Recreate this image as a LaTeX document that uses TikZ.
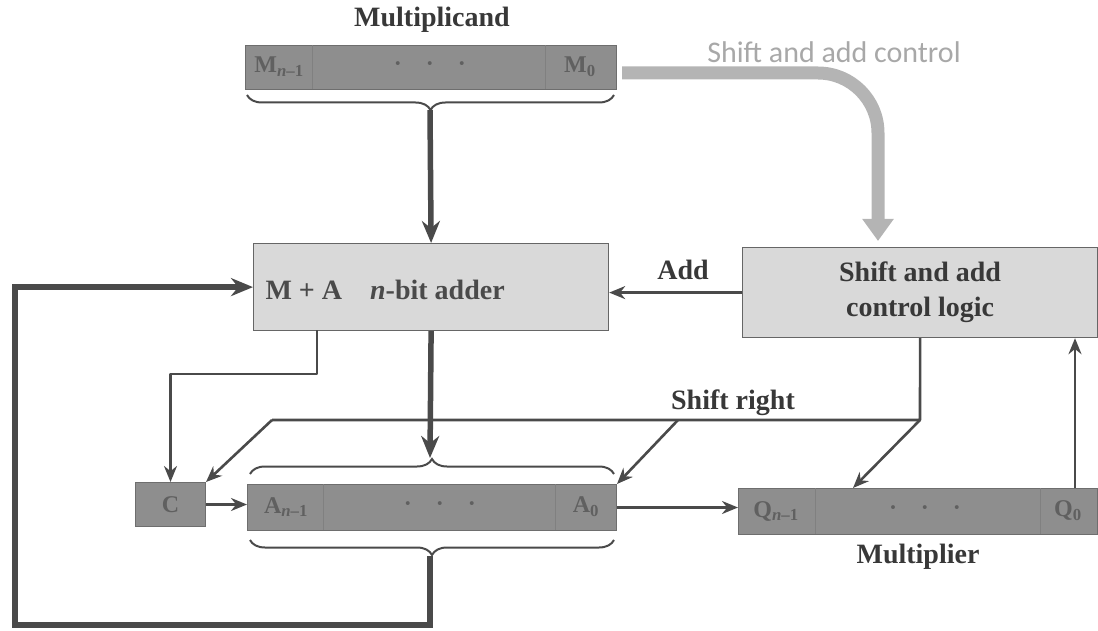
\documentclass[tikz,border=0pt]{standalone}
\usepackage{fontspec}
\setmainfont{Liberation Serif}
\newfontfamily\calib{Carlito}
\usetikzlibrary{arrows.meta,decorations.pathreplacing,calc}

\definecolor{ln}{HTML}{4A4A4A}
\definecolor{regfill}{HTML}{8E8E8E}
\definecolor{boxfill}{HTML}{D9D9D9}
\definecolor{regtext}{HTML}{606060}
\definecolor{ctrlgray}{HTML}{B4B4B4}
\definecolor{ctrltext}{HTML}{A8A8A8}
\definecolor{lbltext}{HTML}{383838}

\begin{document}
\begin{tikzpicture}[x=1pt,y=-1pt,
  thinline/.style={draw=ln, line width=2.6pt, line join=round},
  thickline/.style={draw=ln, line width=5.5pt},
  thinarrow/.style={thinline, -{Stealth[length=16pt,width=13pt]}},
  thickarrow/.style={thickline, -{Stealth[length=22pt,width=18pt]}},
  reg/.style={draw=ln!80, line width=1pt, fill=regfill, inner sep=0pt, anchor=north west},
  lbox/.style={draw=gray!80!black, line width=1.2pt, fill=boxfill, inner sep=0pt, anchor=north west},
  lbl/.style={font=\fontsize{28}{35}\selectfont\bfseries, text=lbltext},
  celltxt/.style={font=\fontsize{24}{28}\selectfont\bfseries, text=regtext},
  divider/.style={draw=regtext!80, line width=1pt},
  brc/.style={draw=ln, line width=2pt, decorate, decoration={brace, amplitude=15pt}},
]
\useasboundingbox (0,0) rectangle (1098,631);

% ---------- Multiplicand register ----------
\node[lbl] (mlabel) at (432,20) {Multiplicand};
\node[reg, minimum width=371pt, minimum height=44pt] (mreg) at (245,45) {};
\draw[divider] (312,45) -- (312,89);
\draw[divider] (545,45) -- (545,89);
\node[celltxt] (mn1) at (279,67) {M\textsubscript{\textit{n}–1}};
\node[celltxt] (mdots) at (430,67) {·\quad·\quad·};
\node[celltxt] (m0) at (580,67) {M\textsubscript{0}};
\draw[brc] (614,95) -- (247,95);
\coordinate (mtip) at (430,110);

% ---------- Adder ----------
\node[lbox, minimum width=355pt, minimum height=87pt] (adder) at (253,243) {};
\node[lbl, anchor=west, text=ln] (addtxt) at (262,290) {M + A\quad\textit{n}-bit adder};
\draw[thickarrow] (mtip) -- (adder.north);

% ---------- Control logic ----------
\node[lbox, minimum width=355pt, minimum height=90pt] (ctrl) at (742,247) {};
\node[lbl, align=center] (ctrltxt) at (ctrl.center) {Shift and add\\control logic};
\node[lbl] (addlbl) at (683,270) {Add};
\draw[thinarrow] (ctrl.west) -- (ctrl.west -| adder.east);

% ---------- grey control arrow ----------
\coordinate (cs) at (622,73);
\coordinate (ce) at (878,247);
\draw[ctrlgray, line width=13pt, rounded corners=60pt, shorten >=6pt,
      -{Triangle[length=22pt,width=30pt]}] (cs) -| (ce);
\node[font=\calib\fontsize{30}{36}\selectfont, text=ctrltext] (ctl) at (834,52) {Shift and add control};

% ---------- C flip-flop ----------
\node[reg, minimum width=70pt, minimum height=44pt] (cbox) at (135,482) {};
\node[celltxt] (ctxt) at (cbox.center) {C};

% ---------- A register ----------
\node[reg, minimum width=369pt, minimum height=46pt] (areg) at (247,484) {};
\draw[divider] (323,484) -- (323,530);
\draw[divider] (555,484) -- (555,530);
\node[celltxt] (an1) at (286,507) {A\textsubscript{\textit{n}–1}};
\node[celltxt] (adots) at (440,507) {·\quad·\quad·};
\node[celltxt] (a0) at (586,507) {A\textsubscript{0}};
\draw[brc] (250,474) -- (614,474);
\coordinate (atop) at (430,458);
\draw[brc] (614,540) -- (250,540);
\coordinate (abot) at (430,556);

% ---------- Q register ----------
\node[reg, minimum width=359pt, minimum height=46pt] (qreg) at (738,488) {};
\draw[divider] (815,488) -- (815,534);
\draw[divider] (1040,488) -- (1040,534);
\node[celltxt] (qn1) at (776,511) {Q\textsubscript{\textit{n}–1}};
\node[celltxt] (qdots) at (925,511) {·\quad·\quad·};
\node[celltxt] (q0) at (1068,511) {Q\textsubscript{0}};
\node[lbl] (mplier) at (918,557) {Multiplier};

% ---------- adder outputs ----------
\coordinate (a1) at (317,330);
\coordinate (a2) at (317,374);
\draw[thinarrow] (a1) -- (a2) -| (cbox.north);
\draw[thickarrow] (adder.south) -- (atop);

% ---------- shift right ----------
\coordinate (sr) at (920,420);
\coordinate (sm) at (678,420);
\coordinate (sl) at (272,420);
\coordinate (qtop) at (853,488);
\node[lbl] (shlbl) at (733,403) {Shift right};
\draw[thinline] (ctrl.south) -- (sr) -- (sl);
\draw[thinarrow] (sl) -- (cbox.north east);
\draw[thinarrow] (sm) -- (areg.north east);
\draw[thinarrow] (sr) -- (qtop);

% ---------- data paths ----------
\draw[thinarrow] (cbox.east) -- (cbox.east -| areg.west);
\draw[thinarrow] (areg.east) -- (areg.east -| qreg.west);
\coordinate (qup) at (1075,488);
\draw[thinarrow] (qup) -- (qup |- ctrl.south);

% ---------- feedback ----------
\coordinate (fb1) at (430,625);
\coordinate (fb2) at (15,625);
\draw[thickarrow] (abot) -- (fb1) -- (fb2) -- (fb2 |- adder.west) -- (adder.west);
\end{tikzpicture}
\end{document}
